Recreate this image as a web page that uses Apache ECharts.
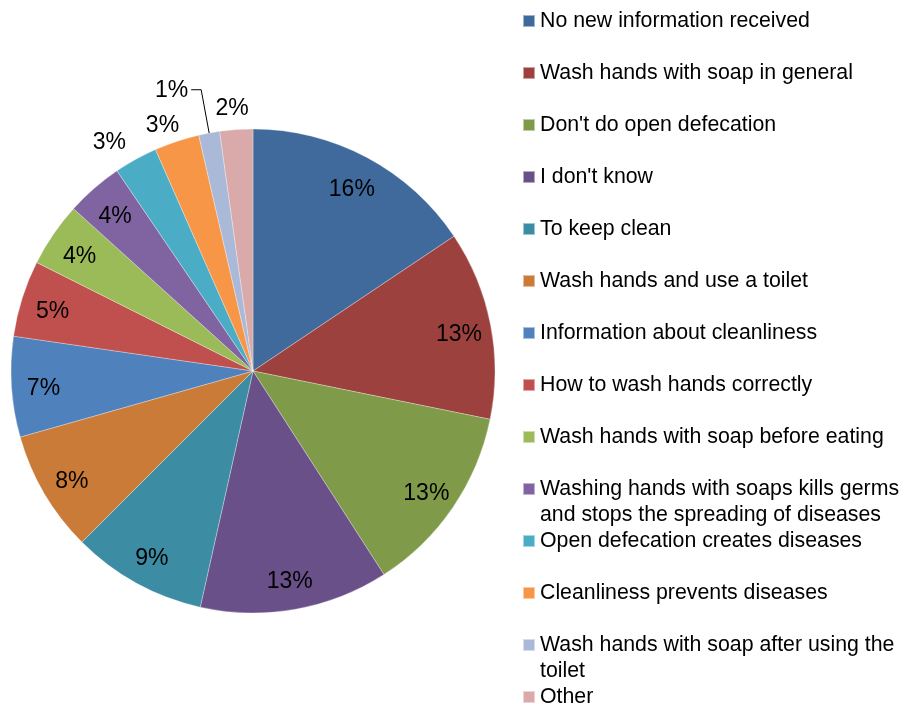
<!DOCTYPE html>
<html>
<head>
<meta charset="utf-8">
<script src="https://cdn.jsdelivr.net/npm/echarts@6/dist/echarts.min.js"></script>
<style>
  html, body { margin: 0; padding: 0; background: #fff; }
  #chart { width: 901px; height: 705px; }
</style>
</head>
<body>
<div id="chart"></div>
<script>
// Survey answers and their shares (percent of respondents)
const categories = [
  'No new information received',
  'Wash hands with soap in general',
  "Don't do open defecation",
  "I don't know",
  'To keep clean',
  'Wash hands and use a toilet',
  'Information about cleanliness',
  'How to wash hands correctly',
  'Wash hands with soap before eating',
  'Washing hands with soaps kills germs\nand stops the spreading of diseases',
  'Open defecation creates diseases',
  'Cleanliness prevents diseases',
  'Wash hands with soap after using the\ntoilet',
  'Other'
];
const shares = [15.6, 12.6, 12.7, 12.6, 9.0, 8.1, 6.7, 5.1, 4.3, 3.8, 2.9, 3.0, 1.4, 2.2];

const colors = [
  '#406A9B', '#9D413E', '#7F9A48', '#6A5088', '#3C8DA3', '#CB7B38',
  '#4F81BD', '#C0504D', '#9BBB59', '#8064A2', '#4BACC6', '#F79646',
  '#AAB9D7', '#D9AAA9'
];

const FONT = "'Liberation Sans', Arial, sans-serif";
const CENTER = [253, 371];
const RADIUS = 242;

// Small slices get their label outside the pie; radial line length per slice
const outsideLabels = {
  10: { length: 20, line: false, shift: 5 },
  11: { length: 18, line: false, shift: 13 },
  12: { length: 44, line: true, shift: 2 },
  13: { length: 22, line: false, shift: 19 }
};

const pieData = categories.map((name, i) => ({
  name,
  value: shares[i],
  itemStyle: { color: colors[i] }
}));

const labelData = categories.map((name, i) => {
  const item = { name, value: shares[i] };
  const o = outsideLabels[i];
  if (o) {
    item.label = { position: 'outside' };
    item.labelLine = { show: o.line, length: o.length, length2: o.line ? 10 : 0 };
  }
  return item;
});

const legends = categories.map((name, i) => {
  const twoLine = name.indexOf('\n') >= 0;
  const iconCenter = 21 + 52 * i;
  return {
    data: [name],
    left: 522,
    top: iconCenter - (twoLine ? 39 : 13),
    orient: 'vertical',
    padding: 0,
    icon: 'rect',
    itemWidth: 12,
    itemHeight: 12,
    itemGap: 0,
    selectedMode: false,
    // a leading blank line keeps the marker level with the first text line
    formatter: n => (n.indexOf('\n') >= 0 ? '\n' + n : n),
    textStyle: {
      fontFamily: FONT,
      fontSize: 21.3,
      color: '#000',
      lineHeight: 26
    }
  };
});

const chart = echarts.init(document.getElementById('chart'), null, { renderer: 'canvas' });
chart.setOption({
  animation: false,
  backgroundColor: '#fff',
  legend: legends,
  series: [
    {
      type: 'pie',
      center: CENTER,
      radius: RADIUS,
      startAngle: 90,
      clockwise: true,
      avoidLabelOverlap: false,
      label: { show: false },
      labelLine: { show: false },
      itemStyle: { borderColor: 'rgba(255,255,255,0.5)', borderWidth: 0.6 },
      emphasis: { disabled: true },
      data: pieData
    },
    {
      // transparent ring that carries the percentage labels near the rim
      type: 'pie',
      center: CENTER,
      radius: [172, RADIUS],
      startAngle: 90,
      clockwise: true,
      silent: true,
      legendHoverLink: false,
      avoidLabelOverlap: false,
      emphasis: { disabled: true },
      tooltip: { show: false },
      itemStyle: { color: 'rgba(0,0,0,0)', borderWidth: 0 },
      label: {
        show: true,
        position: 'inside',
        color: '#000',
        fontFamily: FONT,
        fontSize: 23,
        distanceToLabelLine: 5,
        formatter: p => Math.round(p.value) + '%'
      },
      labelLine: { show: false, lineStyle: { color: '#000', width: 1 } },
      labelLayout: p => {
        const o = outsideLabels[p.dataIndex];
        return o
          ? { hideOverlap: false, dx: o.shift, dy: 1 }
          : { hideOverlap: false, dy: 4 };
      },
      data: labelData,
      z: 3
    }
  ]
});
</script>
</body>
</html>
